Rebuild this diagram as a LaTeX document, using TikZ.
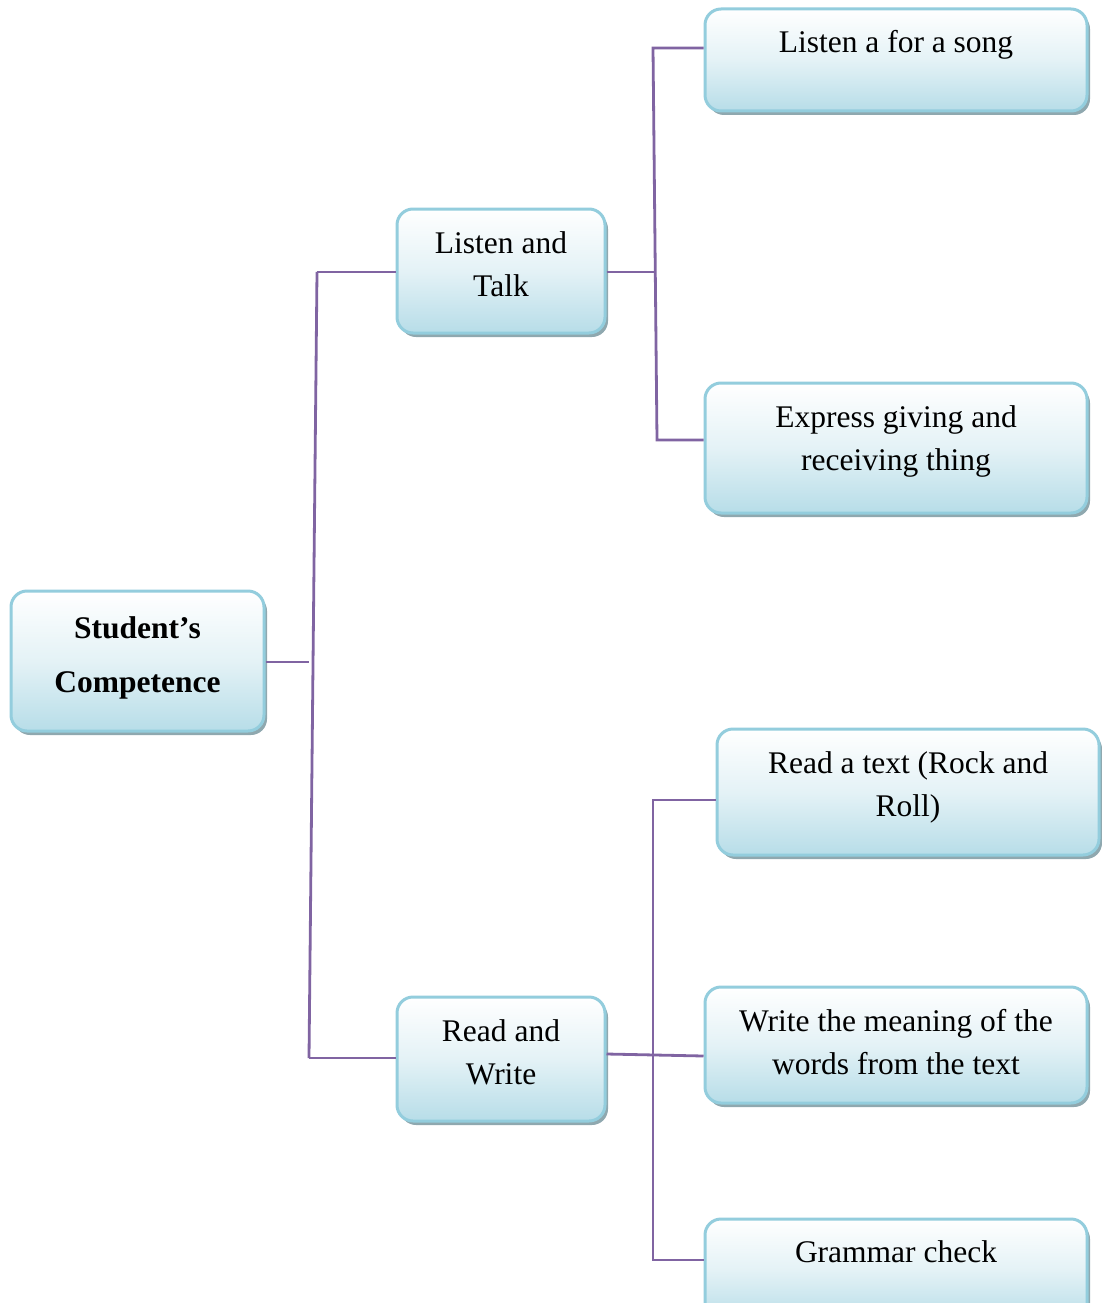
\documentclass[tikz,border=0pt]{standalone}
\usepackage{fontspec}
\setmainfont{Liberation Serif}
\usetikzlibrary{shadows}
\definecolor{lineviolet}{HTML}{8064A2}
\definecolor{boxborder}{HTML}{93CDDD}
\definecolor{boxblue}{HTML}{B7DDE8}
\definecolor{boxmid}{HTML}{E4F2F6}
\definecolor{shadowgray}{HTML}{8FA8AF}
\tikzset{
  box/.style={draw=boxborder, line width=3pt, rounded corners=16pt,
    top color=white, bottom color=boxblue, middle color=boxmid,
    drop shadow={shadow xshift=3pt, shadow yshift=-4pt, fill=shadowgray, opacity=1},
    inner sep=0pt},
  txt/.style={align=center, anchor=base, inner sep=0pt, font=\fontsize{31.5}{43}\selectfont},
  conn/.style={draw=lineviolet, line width=2.8pt}
}
\begin{document}
\begin{tikzpicture}[x=1pt,y=-1pt]
\useasboundingbox (0,0) rectangle (1101,1303);
% boxes
\node[box, minimum width=253pt, minimum height=140pt] (root) at (137.5,661) {};
\node[box, minimum width=208pt, minimum height=124pt] (lt) at (501,271) {};
\node[box, minimum width=208pt, minimum height=124pt] (rw) at (501,1059) {};
\node[box, minimum width=382pt, minimum height=102pt] (s1) at (896,60) {};
\node[box, minimum width=382pt, minimum height=130pt] (s2) at (896,448) {};
\node[box, minimum width=382pt, minimum height=126pt] (s3) at (908,792) {};
\node[box, minimum width=382pt, minimum height=116pt] (s4) at (896,1045) {};
\node[box, minimum width=382pt, minimum height=102pt] (s5) at (896,1270) {};
% texts (anchor = baseline of last line)
\node[txt, font=\fontsize{31.5}{54}\selectfont\bfseries] (troot) at (137.5,692) {Student’s\\Competence};
\node[txt] (tlt) at (501,296) {Listen and\\Talk};
\node[txt] (trw) at (501,1084) {Read and\\Write};
\node[txt] (ts1) at (896,53) {Listen a for a song};
\node[txt] (ts2) at (896,470) {Express giving and\\receiving thing};
\node[txt] (ts3) at (908,816) {Read a text (Rock and\\Roll)};
\node[txt] (ts4) at (896,1074) {Write the meaning of the\\words from the text};
\node[txt] (ts5) at (896,1262) {Grammar check};
% junction coordinates
\coordinate (j0) at (309,662);
\coordinate (ta) at (317,272);
\coordinate (tb) at (309,1058);
\coordinate (ua) at (655,272);
\coordinate (ub) at (653,48);
\coordinate (uc) at (657,440);
\coordinate (va) at (0,1054);
\coordinate (vb) at (0,1056);
\coordinate (wa) at (653,800);
\coordinate (wb) at (653,1260);
% connectors
\draw[conn] (root.east |- j0) -- (j0);
\draw[conn] (tb) -- (ta);
\draw[conn] (ta) -- (ta -| lt.west);
\draw[conn] (tb) -- (tb -| rw.west);
\draw[conn] (ua -| lt.east) -- (ua);
\draw[conn] (s1.west |- ub) -- (ub) -- (uc) -- (uc -| s2.west);
\draw[conn] (rw.east |- va) -- (s4.west |- vb);
\draw[conn] (s3.west |- wa) -- (wa) -- (wb) -- (wb -| s5.west);
\end{tikzpicture}
\end{document}
